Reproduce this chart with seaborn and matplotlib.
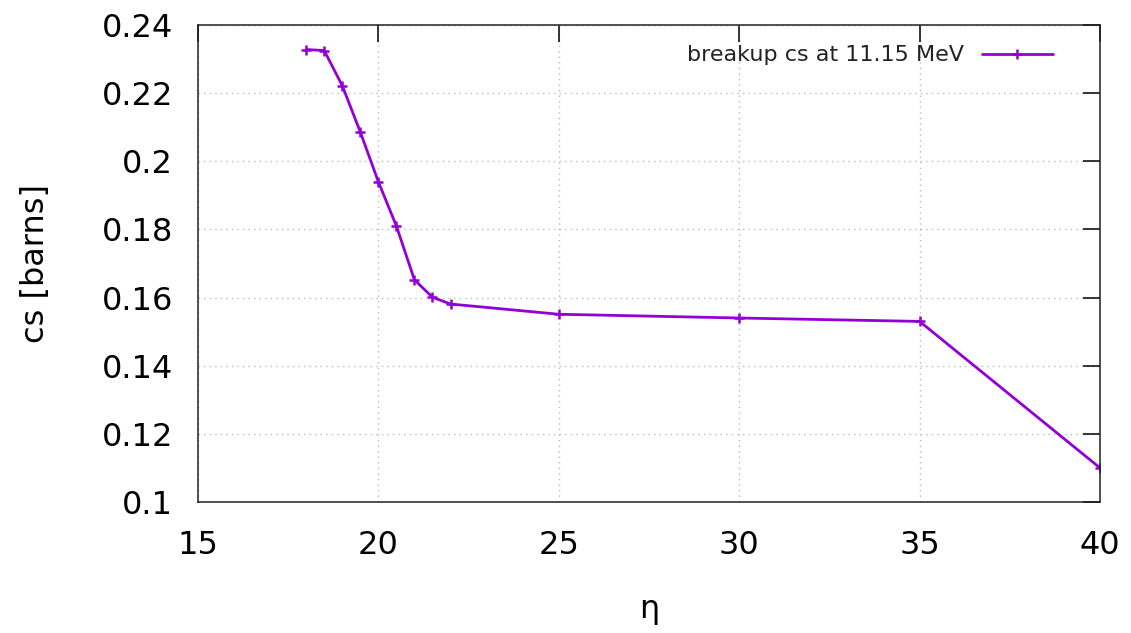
import matplotlib
matplotlib.use("Agg")
import matplotlib.pyplot as plt
import seaborn as sns
import pandas as pd

eta = [18, 18.5, 19, 19.5, 20, 20.5, 21, 21.5, 22, 25, 30, 35, 40]
cs = [0.2328, 0.2325, 0.2222, 0.2086, 0.1940, 0.1810, 0.1652, 0.1601, 0.1581, 0.1551, 0.1540, 0.1530, 0.1100]
series_label = "breakup cs at 11.15 MeV"
x_ticks = [15, 20, 25, 30, 35, 40]
y_ticks = [0.1, 0.12, 0.14, 0.16, 0.18, 0.2, 0.22, 0.24]
y_tick_labels = ["0.1", "0.12", "0.14", "0.16", "0.18", "0.2", "0.22", "0.24"]

sns.set_style("white")
plt.rcParams['font.family'] = ['DejaVu Sans']
plt.rcParams['text.color'] = 'black'
plt.rcParams['axes.labelcolor'] = 'black'

df = pd.DataFrame({"eta": eta, "cs": cs})

fig = plt.figure(figsize=(11.31, 6.33), dpi=100)
ax = fig.add_axes([0.175, 0.207, 0.9726 - 0.175, 0.9605 - 0.207])

color = "#9400D3"
sns.lineplot(data=df, x="eta", y="cs", ax=ax, color=color, marker="+",
             markersize=7, markeredgewidth=1.8, markeredgecolor=color,
             linewidth=2, label=series_label)

ax.set_xlim(15, 40)
ax.set_ylim(0.1, 0.24)
ax.set_xticks(x_ticks)
ax.set_xticklabels([str(t) for t in x_ticks])
ax.set_yticks(y_ticks)
ax.set_yticklabels(y_tick_labels)
ax.tick_params(axis="both", which="major", labelsize=23, direction="in",
               length=12, width=1.1, top=True, right=True, colors="black")
ax.tick_params(axis="x", pad=20)
ax.tick_params(axis="y", pad=18)
for sp in ax.spines.values():
    sp.set_color("#222222")
    sp.set_linewidth(1.1)
ax.grid(True, linestyle=(0, (1, 3)), color="#bbbbbb", linewidth=1)

ax.set_xlabel("η", fontsize=23, labelpad=24)
ax.set_ylabel("cs [barns]", fontsize=23, labelpad=36)

leg = ax.legend(loc="upper right", frameon=False, markerfirst=False, fontsize=16,
                handlelength=3.2, borderaxespad=0.3, bbox_to_anchor=(0.965, 0.99))
for t in leg.get_texts():
    t.set_color("#222222")

fig.savefig("out.png", dpi=100)
